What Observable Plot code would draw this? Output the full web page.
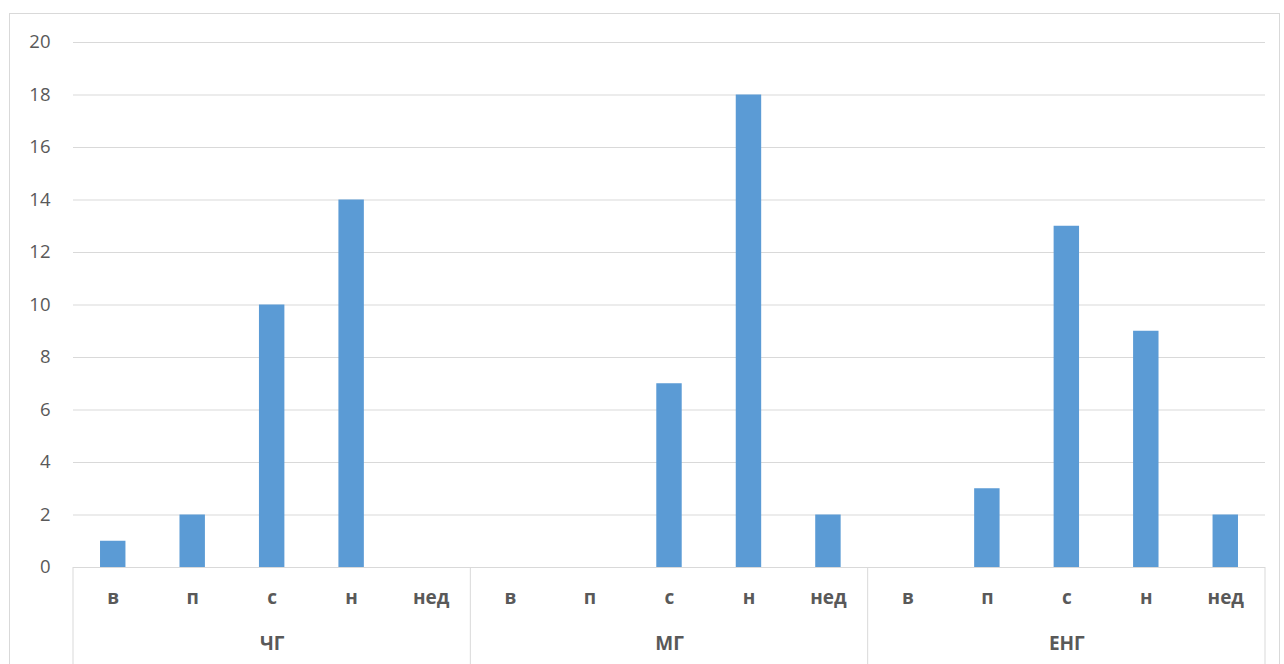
<!DOCTYPE html>
<html><head><meta charset="utf-8">
<script src="https://cdn.jsdelivr.net/npm/d3@7"></script>
<script src="https://cdn.jsdelivr.net/npm/@observablehq/plot@0.6"></script>
<style>
body{margin:0;background:#fff;}
#wrap{position:relative;width:1284px;height:664px;overflow:hidden;background:#fff;}
#border{position:absolute;left:9px;top:13px;width:1271px;height:700px;border:1px solid #d9d9d9;box-sizing:border-box;}
#chart{position:absolute;left:0;top:0;}
</style></head><body>
<div id="wrap"><div id="border"></div><div id="chart"></div></div>
<script>
const groups = ["ЧГ", "МГ", "ЕНГ"];
const categories = ["в", "п", "с", "н", "нед"];
const valuesCG = [1, 2, 10, 14, 0];
const valuesMG = [0, 0, 7, 18, 2];
const valuesENG = [0, 3, 13, 9, 2];
const yTicks = [0, 2, 4, 6, 8, 10, 12, 14, 16, 18, 20];

const seriesByGroup = [valuesCG, valuesMG, valuesENG];
const keys = [];
const data = [];
groups.forEach((g, gi) => {
  categories.forEach((c, ci) => {
    const key = g + "|" + c;
    keys.push(key);
    data.push({key, group: g, cat: c, value: seriesByGroup[gi][ci]});
  });
});

const separators = (index, scales, values, dimensions) => {
  const x = scales.x, y = scales.y;
  const step = x(keys[1]) - x(keys[0]);
  const bw = typeof x.bandwidth === "function" ? x.bandwidth() : step * 0.32;
  const y0 = y(0);
  const g = d3.create("svg:g");
  const xs = groups.map(gr => x(gr + "|" + categories[0]) + bw / 2 - step / 2);
  xs.push(x(keys[keys.length - 1]) + bw / 2 + step / 2);
  xs.forEach(xv => {
    g.append("line").attr("x1", xv).attr("x2", xv).attr("y1", y0).attr("y2", dimensions.height + 20)
      .attr("stroke", "#d9d9d9").attr("stroke-width", 1);
  });
  return g.node();
};

const chart = Plot.plot({
  width: 1284, height: 664,
  marginLeft: 73, marginRight: 19, marginTop: 42, marginBottom: 97,
  style: {fontFamily: "'Open Sans', sans-serif", color: "#595959", background: "transparent", overflow: "visible"},
  x: {domain: keys, paddingInner: 0.68, paddingOuter: 0.34, round: false, axis: null, label: null},
  y: {domain: [0, 20], axis: null, label: null},
  marks: [
    Plot.gridY(yTicks, {stroke: "#d9d9d9", strokeOpacity: 1, strokeWidth: 1}),
    Plot.axisY(yTicks, {tickSize: 0, tickPadding: 23, fontSize: 18.5, fill: "#595959", label: null}),
    Plot.barY(data.filter(d => d.value > 0), {x: "key", y: "value", fill: "#5b9bd5"}),
    Plot.ruleY([0], {stroke: "#d9d9d9"}),
    Plot.axisX(keys, {tickSize: 0, tickPadding: 23, tickFormat: k => k.split("|")[1], fontSize: 19, fontWeight: "bold", fill: "#595959", label: null}),
    Plot.text(groups, {x: g => g + "|" + categories[2], y: () => 0, dy: 76, text: d => d, fontSize: 19, fontWeight: "bold", fill: "#595959"}),
    separators
  ]
});
document.getElementById("chart").appendChild(chart);
</script>
</body></html>
